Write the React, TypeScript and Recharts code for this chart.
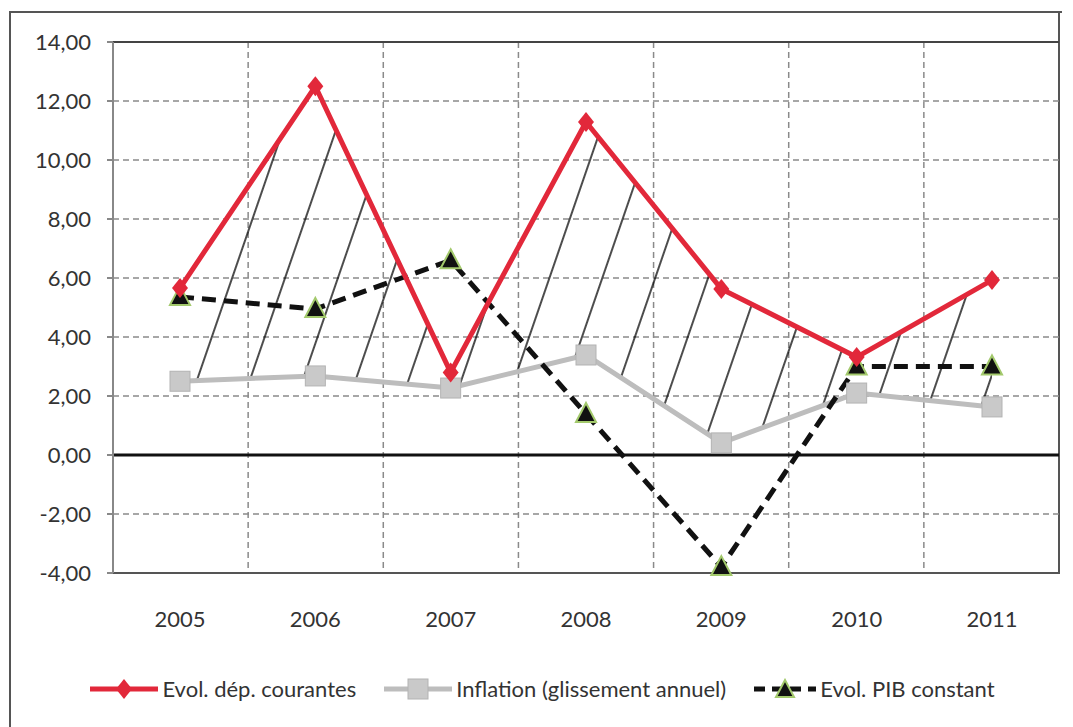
import React from 'react';
import { ComposedChart, Line, Area, XAxis, YAxis, CartesianGrid, ReferenceLine, Legend } from 'recharts';

const years: string[] = ['2005', '2006', '2007', '2008', '2009', '2010', '2011'];
const depCourantes: number[] = [5.66, 12.5, 2.8, 11.29, 5.63, 3.32, 5.93];
const inflation: number[] = [2.5, 2.68, 2.27, 3.39, 0.41, 2.1, 1.63];
const pibConstant: number[] = [5.36, 4.95, 6.6, 1.39, -3.8, 3.0, 3.0];
const yTicks: number[] = [-4, -2, 0, 2, 4, 6, 8, 10, 12, 14];

const data = years.map((y, i) => ({
    year: y,
    dep: depCourantes[i],
    inf: inflation[i],
    pib: pibConstant[i],
    band: [inflation[i], depCourantes[i]],
}));

const RED = '#e2283a';
const GREY = '#bdbdbd';
const FONT = 'Lato, "Open Sans", sans-serif';

const fmt = (v: number) => v.toFixed(2).replace('.', ',');

const Diamond = (p: any) => {
    const { cx, cy } = p;
    if (cx == null || cy == null) return null;
    return <path key={p.index} d={`M${cx},${cy - 10}L${cx + 8},${cy}L${cx},${cy + 10}L${cx - 8},${cy}Z`} fill={RED} />;
};

const Square = (p: any) => {
    const { cx, cy } = p;
    if (cx == null || cy == null) return null;
    return <rect key={p.index} x={cx - 10} y={cy - 10} width={20} height={20} fill="#c9c9c9" stroke="#b3b3b3" strokeWidth={1} />;
};

const Triangle = (p: any) => {
    const { cx, cy } = p;
    if (cx == null || cy == null) return null;
    return <path key={p.index} d={`M${cx},${cy - 11}L${cx + 10},${cy + 8}L${cx - 10},${cy + 8}Z`} fill="#111" stroke="#a3c96c" strokeWidth={2} />;
};

const legendItems = [
    { label: 'Evol. dép. courantes', kind: 'dep' },
    { label: 'Inflation (glissement annuel)', kind: 'inf' },
    { label: 'Evol. PIB constant', kind: 'pib' },
];

const LegendIcon = ({ kind }: { kind: string }) => {
    if (kind === 'dep') {
        return (
            <svg width={68} height={20}>
                <line x1={0} y1={10} x2={68} y2={10} stroke={RED} strokeWidth={5} />
                <path d="M34,0L42,10L34,20L26,10Z" fill={RED} />
            </svg>
        );
    }
    if (kind === 'inf') {
        return (
            <svg width={68} height={22}>
                <line x1={0} y1={11} x2={68} y2={11} stroke={GREY} strokeWidth={5} />
                <rect x={24} y={1} width={20} height={20} fill="#c9c9c9" stroke="#b3b3b3" />
            </svg>
        );
    }
    return (
        <svg width={62} height={22}>
            <line x1={0} y1={11} x2={62} y2={11} stroke="#111" strokeWidth={5} strokeDasharray="11 7" />
            <path d="M31,2L40,19L22,19Z" fill="#111" stroke="#a3c96c" strokeWidth={2} />
        </svg>
    );
};

const renderLegend = () => (
    <div style={{ display: 'flex', justifyContent: 'center', alignItems: 'center', paddingLeft: 12, fontFamily: FONT, fontSize: 22, color: '#333' }}>
        {legendItems.map((it) => (
            <div key={it.kind} style={{ display: 'flex', alignItems: 'center', margin: '0 14px' }}>
                <LegendIcon kind={it.kind} />
                <span style={{ marginLeft: 4 }}>{it.label}</span>
            </div>
        ))}
    </div>
);

const App: React.FC = () => {
    return (
        <div style={{ position: 'fixed', left: 0, top: 0, width: 1073, height: 727, background: '#fff' }}>
            <div style={{ position: 'absolute', left: 9, top: 11, width: 1051, height: 720, borderLeft: '2px solid #555', borderTop: '2px solid #555' }} />
            <div style={{ position: 'absolute', left: 1058, top: 11, width: 2, height: 563, background: '#555' }} />
            <ComposedChart
                width={1073}
                height={727}
                data={data}
                margin={{ top: 42, right: 14, left: 53, bottom: 54 }}
                style={{ fontFamily: FONT }}
            >
                <defs>
                    <pattern id="hatch" patternUnits="userSpaceOnUse" width={50} height={60} patternTransform="rotate(19)">
                        <line x1={10} y1={0} x2={10} y2={60} stroke="#000" strokeWidth={1.4} />
                    </pattern>
                </defs>
                <CartesianGrid
                    stroke="#8a8a8a"
                    strokeDasharray="6 4"
                    strokeWidth={1.5}
                    verticalCoordinatesGenerator={({ offset }: any) =>
                        years.slice(1).map((_, i) => offset.left + ((i + 1) * offset.width) / years.length)
                    }
                />
                <XAxis
                    dataKey="year"
                    axisLine={false}
                    tickLine={false}
                    tickSize={0}
                    tickMargin={38}
                    height={60}
                    padding={{ left: 67, right: 67 }}
                    tick={{ fill: '#333', fontSize: 22 }}
                />
                <YAxis
                    domain={[-4, 14]}
                    ticks={yTicks}
                    tickFormatter={fmt}
                    width={60}
                    axisLine={{ stroke: '#888', strokeWidth: 2 }}
                    tickLine={{ stroke: '#888', strokeWidth: 2 }}
                    tickSize={6}
                    tickMargin={16}
                    tick={{ fill: '#333', fontSize: 22 }}
                    interval={0}
                />
                <ReferenceLine y={14} stroke="#444" strokeWidth={2} />
                <ReferenceLine y={-4} stroke="#555" strokeWidth={2} />
                <Area
                    dataKey="band"
                    stroke="none"
                    fill="url(#hatch)"
                    fillOpacity={1}
                    isAnimationActive={false}
                    activeDot={false}
                    legendType="none"
                />
                <ReferenceLine y={0} stroke="#111" strokeWidth={3} />
                <Line dataKey="inf" stroke={GREY} strokeWidth={5} dot={Square} activeDot={false} isAnimationActive={false} />
                <Line dataKey="pib" stroke="#111" strokeWidth={5} strokeDasharray="14 8" dot={Triangle} activeDot={false} isAnimationActive={false} />
                <Line dataKey="dep" stroke={RED} strokeWidth={5} dot={Diamond} activeDot={false} isAnimationActive={false} />
                <Legend verticalAlign="bottom" height={40} content={renderLegend} wrapperStyle={{ left: 0, width: 1073, bottom: 12 }} />
            </ComposedChart>
        </div>
    );
};

export default App;
